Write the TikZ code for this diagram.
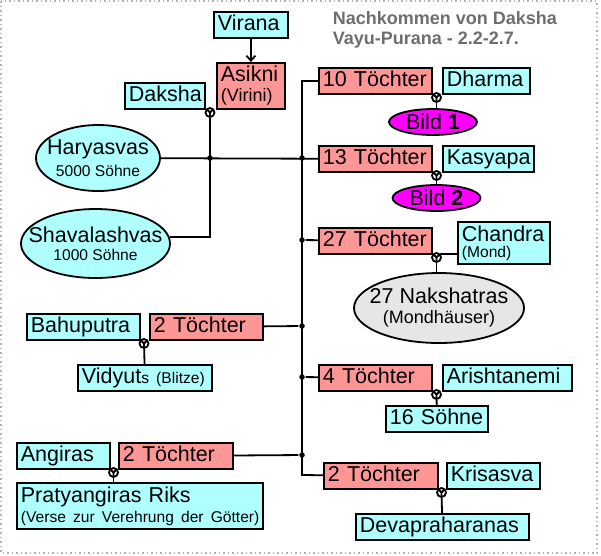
\documentclass[tikz,border=0pt]{standalone}
\usepackage{fontspec}
\setmainfont{Liberation Sans}
\usetikzlibrary{shapes.geometric, arrows.meta}
\definecolor{mancyan}{RGB}{175,255,255}
\definecolor{womanred}{RGB}{255,150,150}
\definecolor{bildpink}{RGB}{255,0,255}
\definecolor{groupgray}{RGB}{230,230,230}
\definecolor{titlegray}{RGB}{110,110,110}
\newcommand\namefont{\fontsize{21.5}{20}\selectfont}
\newcommand\notefont{\fontsize{15.6}{18}\selectfont}
\newcommand\subfont{\fontsize{18}{20}\selectfont}
\newcommand\titlefont{\fontsize{18}{20}\selectfont\bfseries}
\tikzset{
    every node/.style={font=\namefont}
}
\tikzset{
    box/.style={draw, anchor=north west, inner xsep=4pt, inner ysep=0pt,
    	align=left, minimum height=26pt},
    single/.style={text height=15.5pt, text depth=4pt,
    	execute at begin node=\hbox\bgroup, execute at end node=\egroup},
    man/.style={box, single, fill=mancyan},
    woman/.style={box, single, fill=womanred},
    group/.style={ellipse, draw, inner sep=0pt, fill=mancyan},
    couple/.style={circle, draw, fill=white, inner sep=0pt, minimum size=9pt,
    	path picture={\draw (path picture bounding box.north west)
    	-- (path picture bounding box.center) -- (path picture bounding box.north east)
    	(path picture bounding box.center) -- (path picture bounding box.south);}},
    junction/.style={circle, fill, inner sep=0pt, minimum size=5.5pt},
    arrow/.style={-{Straight Barb[length=5pt,width=9pt]}},
    frame/.style={gray!60, line width=1.5pt, dash pattern=on 1.5pt off 3pt}
}

\begin{document}
\begin{tikzpicture}[x=1pt, y=-1pt, line width=1.8pt]
	\fill[white] (0,0) rectangle (601,555);
	\useasboundingbox (0,0) rectangle (601,555);
	\draw[frame] (1,1) rectangle (597,553);
	\node (title) [anchor=north west, inner sep=0pt, align=left, font=\titlefont, text=titlegray] at (332, 11) {Nachkommen von Daksha\\Vayu-Purana - 2.2-2.7.};
	
	\node (virana) [man, text width=66pt] at (213, 11) {Virana};
	\node (asikni) [box, fill=womanred, text width=60pt, minimum height=46pt] at (216, 62) {Asikni\\\mbox{\subfont (Virini)}};
	\node (daksha) [man, text width=72pt] at (124, 82) {Daksha};
	\node (haryasvas) [group, minimum width=124pt, minimum height=66pt, label={[align=center]center:Haryasvas\\[2pt]{\notefont 5000 Söhne}}] at (98, 158) {};
	\node (shavalashvas) [group, minimum width=149pt, minimum height=69pt, label={[align=center]center:Shavalashvas\\[-2pt]{\notefont 1000 Söhne}}] at (95.5, 243.5) {};
	
	\node (tochter10) [woman, text width=105pt] at (318, 67) {10 Töchter};
	\node (dharma) [man, text width=79pt] at (442, 67) {Dharma};
	\node (bild1) [group, fill=bildpink, minimum width=88pt, minimum height=26pt, label={center:Bild \textbf{1}}] at (433, 122) {};
	\node (tochter13) [woman, text width=105pt] at (318, 145) {13 Töchter};
	\node (kasyapa) [man, text width=83pt] at (442, 145) {Kasyapa};
	\node (bild2) [group, fill=bildpink, minimum width=88pt, minimum height=26pt, label={center:Bild \textbf{2}}] at (436.5, 198) {};
	\node (tochter27) [woman, text width=105pt] at (318, 227) {27 Töchter};
	\node (chandra) [box, fill=mancyan, text width=84pt, minimum height=42pt] at (457, 221) {Chandra\\[-4pt]\mbox{\notefont (Mond)}};
	\node (nakshatras) [group, fill=groupgray, minimum width=170pt, minimum height=70pt, label={[align=center]center:27 Nakshatras\\{\subfont (Mondhäuser)}}] at (439, 308) {};
	\node (tochter4) [woman, text width=105pt] at (318, 364) {4 Töchter};
	\node (arishtanemi) [man, text width=121pt] at (442, 364) {Arishtanemi};
	\node (sohne16) [man, text width=94pt] at (385, 405) {16 Söhne};
	\node (tochterk) [woman, text width=106pt] at (323, 462) {2 Töchter};
	\node (krisasva) [man, text width=85pt] at (446, 462) {Krisasva};
	\node (devapraharanas) [man, text width=165pt] at (355, 513) {Devapraharanas};
	
	\node (bahuputra) [man, text width=105pt] at (26, 313) {Bahuputra};
	\node (tochterb) [woman, text width=105pt] at (149, 313) {2 Töchter};
	\node (vidyuts) [man, text width=126pt] at (77, 364) {Vidyut{\notefont s (Blitze)}};
	\node (angiras) [man, text width=85pt] at (16, 442) {Angiras};
	\node (tochtera) [woman, text width=106pt] at (118, 442) {2 Töchter};
	\node (pratyangiras) [box, fill=mancyan, text width=238pt, minimum height=46pt] at (16, 482) {Pratyangiras Riks\\\mbox{\notefont (Verse zur Verehrung der Götter)}};
	
	\node (m1) [couple] at (210, 112.5) {};
	\node (m2) [couple] at (436.5, 97.5) {};
	\node (m3) [couple] at (436.5, 175.5) {};
	\node (m4) [couple] at (436.5, 257.5) {};
	\node (m5) [couple] at (144, 343.5) {};
	\node (m6) [couple] at (436.5, 394.5) {};
	\node (m7) [couple] at (113.5, 472.5) {};
	\node (m8) [couple] at (441.5, 492.5) {};
	
	\node (j1) [junction] at (210, 158) {};
	\node (j2) [junction] at (302, 158) {};
	\node (j3) [junction] at (302, 240) {};
	\node (j4) [junction] at (302, 326) {};
	\node (j5) [junction] at (302, 377) {};
	\node (j6) [junction] at (302, 455) {};
	\coordinate (bottom) at (302, 475);
	
	\draw (virana) edge[arrow] (asikni);
	\draw (m1) |- (shavalashvas.5); \draw (haryasvas) -- (tochter13);
	\draw (tochter10) -| (bottom) -- (tochterk);
	\draw (j3) edge (tochter27); \draw (j4) edge (tochterb);
	\draw (j5) edge (tochter4); \draw (j6) edge (tochtera);
	
	\draw (m2) -- (m2 |- bild1.north); \draw (m3) edge (bild2);
	\draw (m4) -- (m4 |- nakshatras.north); \draw (m4.north east) -- (m4.north east -| chandra.west);
	\draw (m5) edge (vidyuts); \draw (m6) edge (sohne16);
	\draw (m7) -- (m7 |- pratyangiras.north); \draw (m8) edge (devapraharanas);
\end{tikzpicture}
\end{document}
